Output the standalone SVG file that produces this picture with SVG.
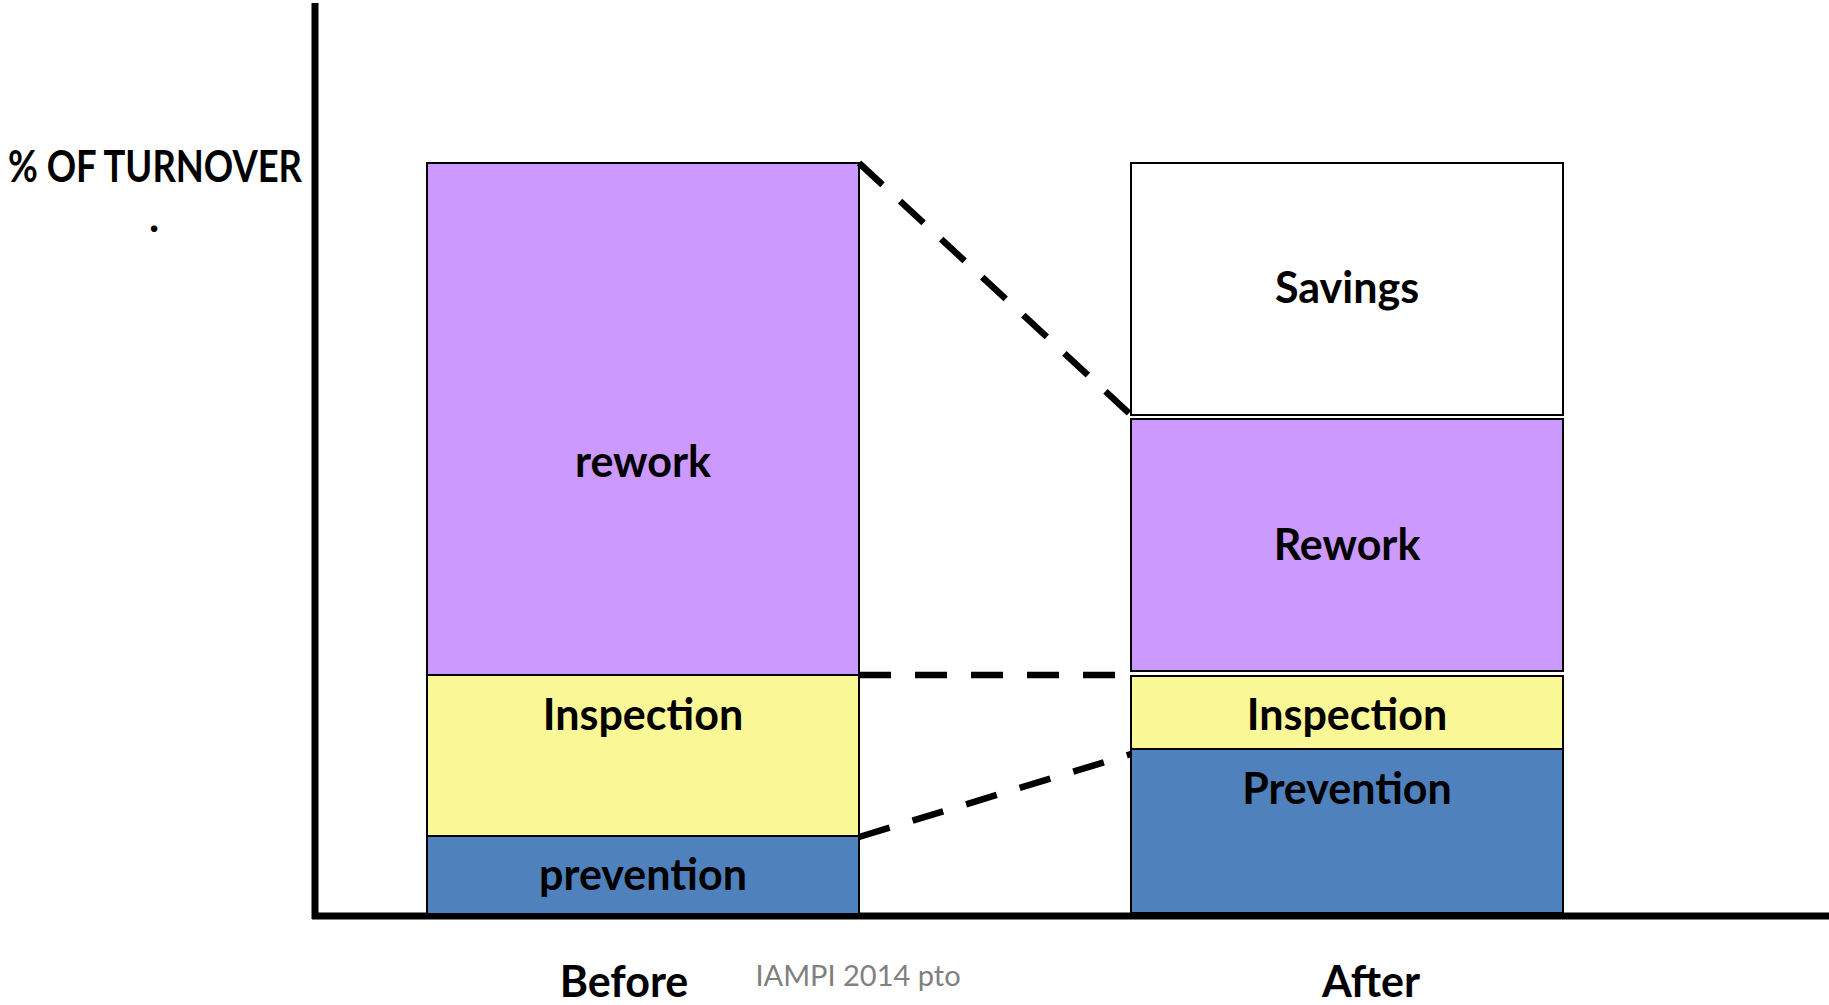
<svg xmlns="http://www.w3.org/2000/svg" width="1829" height="1005" viewBox="0 0 1829 1005">
  <style>
    .seg { stroke: #000; stroke-width: 2; }
    .rework { fill: #CC99FF; }
    .insp { fill: #FAF797; }
    .prev { fill: #4F81BD; }
    .save { fill: #FFFFFF; }
    .lbl { font-family: Lato, "Open Sans", sans-serif; font-weight: bold; font-size: 43px; fill: #000; text-anchor: middle; }
    .axis { stroke: #000; stroke-width: 7; fill: none; }
    .dash { stroke: #000; stroke-width: 6.5; stroke-dasharray: 32 24; fill: none; }
    .note { font-family: Lato, "Open Sans", sans-serif; font-size: 29px; fill: #808080; text-anchor: middle; }
  </style>
  <rect width="1829" height="1005" fill="#FFFFFF"/>

  <!-- axes -->
  <g id="axes">
    <line class="axis" x1="315" y1="3" x2="315" y2="919"/>
    <line class="axis" x1="312" y1="916" x2="1829" y2="916"/>
  </g>

  <!-- y-axis title -->
  <g id="ylabel">
    <text class="lbl" x="155" y="182" font-size="40" textLength="294" lengthAdjust="spacingAndGlyphs">% OF TURNOVER</text>
    <text class="lbl" x="154" y="232">.</text>
  </g>

  <!-- Before column -->
  <g id="before-rework">
    <rect class="seg rework" x="427" y="163" width="432" height="512"/>
    <text class="lbl" x="643" y="477">rework</text>
  </g>
  <g id="before-inspection">
    <rect class="seg insp" x="427" y="675" width="432" height="161"/>
    <text class="lbl" x="643" y="730">Inspection</text>
  </g>
  <g id="before-prevention">
    <rect class="seg prev" x="427" y="836" width="432" height="78"/>
    <text class="lbl" x="643" y="890">prevention</text>
  </g>

  <!-- After column -->
  <g id="after-savings">
    <rect class="seg save" x="1131" y="163" width="432" height="252"/>
    <text class="lbl" x="1347" y="303">Savings</text>
  </g>
  <g id="after-rework">
    <rect class="seg rework" x="1131" y="419" width="432" height="252"/>
    <text class="lbl" x="1347" y="560">Rework</text>
  </g>
  <g id="after-inspection">
    <rect class="seg insp" x="1131" y="676" width="432" height="73"/>
    <text class="lbl" x="1347" y="730">Inspection</text>
  </g>
  <g id="after-prevention">
    <rect class="seg prev" x="1131" y="749" width="432" height="164"/>
    <text class="lbl" x="1347" y="804">Prevention</text>
  </g>

  <!-- dashed links between columns -->
  <g id="connectors">
    <line class="dash" x1="859" y1="163" x2="1131" y2="415"/>
    <line class="dash" x1="859" y1="675" x2="1131" y2="675"/>
    <line class="dash" x1="859" y1="837" x2="1131" y2="754"/>
  </g>

  <!-- category labels -->
  <g id="xlabels">
    <text class="lbl" x="624" y="997">Before</text>
    <text class="lbl" x="1371" y="997">After</text>
  </g>
  <text class="note" x="858" y="986">IAMPI 2014 pto</text>
</svg>
